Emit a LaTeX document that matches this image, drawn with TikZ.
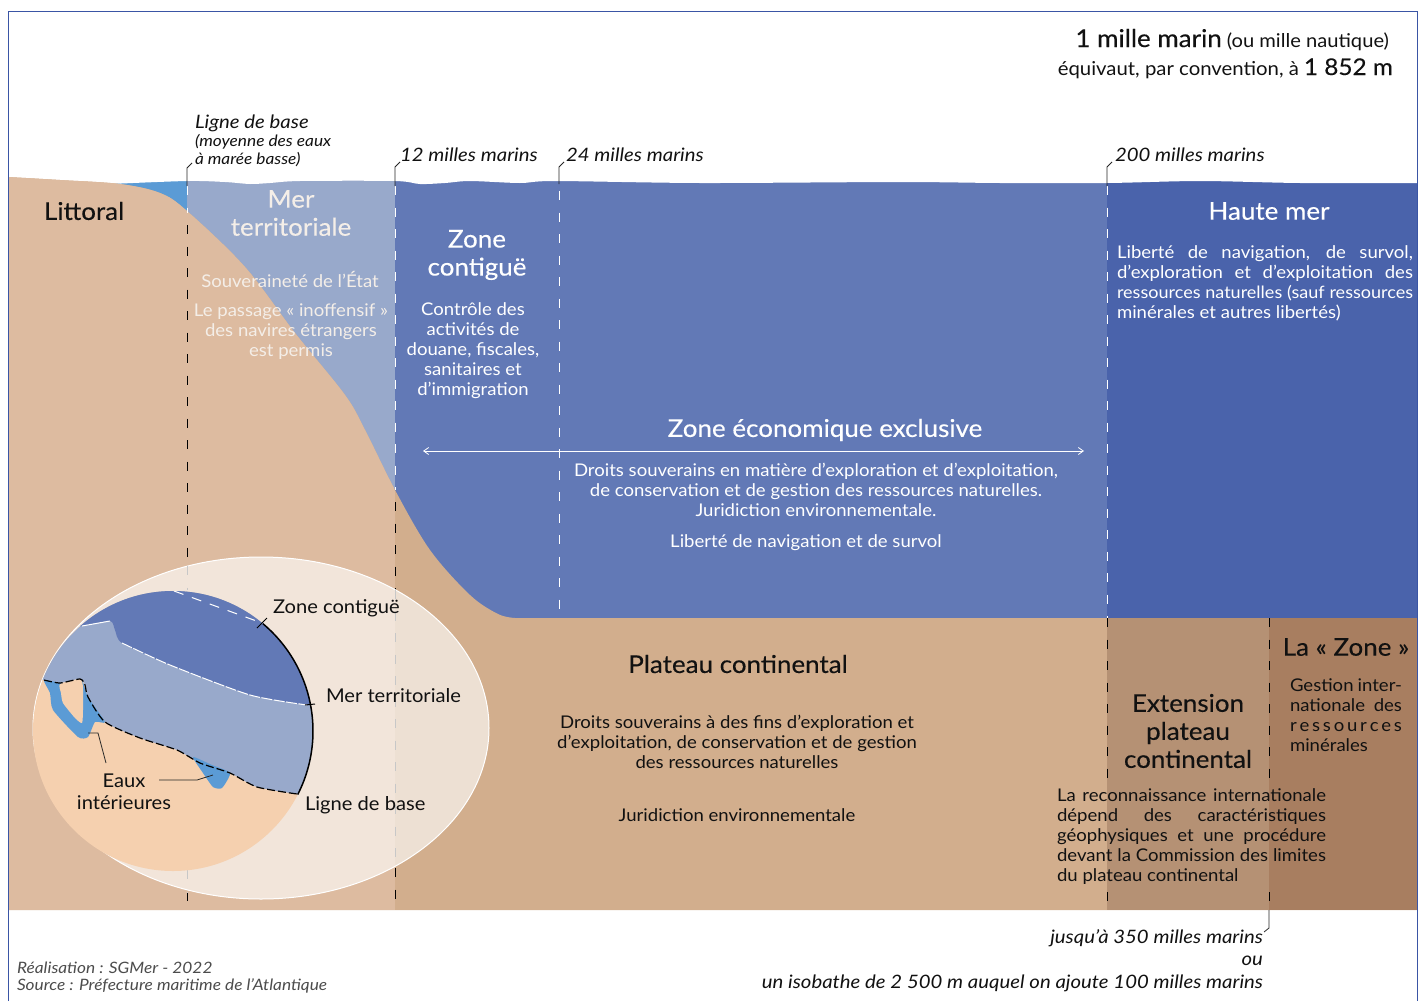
\documentclass[tikz,border=0pt]{standalone}
\usepackage{fontspec}
\setmainfont{Lato}[FakeStretch=1.06,ItalicFeatures={FakeStretch=1.1}]
\newfontfamily\heavier{Lato}[FakeStretch=1.06,FakeBold=.25]
\usetikzlibrary{arrows.meta}
\definecolor{landA}{HTML}{DDBBA0}
\definecolor{landB}{HTML}{D2AE8D}
\definecolor{landC}{HTML}{B59174}
\definecolor{landD}{HTML}{A87E60}
\definecolor{seaA}{HTML}{98A9CB}
\definecolor{seaB}{HTML}{6279B6}
\definecolor{seaC}{HTML}{4A63AB}
\definecolor{bay}{HTML}{5B9BD5}
\definecolor{peach}{HTML}{F5D0AF}
\definecolor{frameblue}{HTML}{3A55A5}
\definecolor{ink}{HTML}{111111}
\definecolor{pale}{HTML}{F4EEE8}
\newcommand{\jl}[2]{\makebox[#1][s]{#2}}
\tikzset{
  txt/.style={inner sep=0pt,outer sep=0pt,text=ink},
  body/.style={txt,align=center,font=\fontsize{17.5}{20}\selectfont},
  bodyleft/.style={txt,align=left,anchor=west,font=\fontsize{17.5}{20}\selectfont},
  title/.style={txt,align=center,font=\heavier\fontsize{24.5}{28}\selectfont},
  ital/.style={txt,anchor=west,font=\itshape\fontsize{18.5}{22}\selectfont},
  italsmall/.style={txt,anchor=west,font=\itshape\fontsize{15.7}{18}\selectfont},
  lab/.style={txt,anchor=west,font=\fontsize{19}{22}\selectfont},
  wdash/.style={white,line width=1pt,dash pattern=on 9pt off 12.5pt},
  kdash/.style={black,line width=1pt,dash pattern=on 9pt off 12.5pt},
  gdash/.style={black!22,line width=1pt,dash pattern=on 9pt off 12.5pt},
  leader/.style={black!85,line width=.8pt},
}
\begin{document}
\begin{tikzpicture}[x=1pt,y=-1pt]
\useasboundingbox (0,0) rectangle (1426,1001);
% sea
\fill[seaA] (187,170) rectangle (395,618);
\fill[seaB] (395,170) rectangle (1107,618);
\fill[seaC] (1107,170) rectangle (1417,618);
\fill[bay] (110,175) rectangle (187,230);
% white sky above the wavy surface
\fill[white] (100,160) -- plot[smooth,tension=.5] coordinates {(110,184)(187,181)(225,182)(250,184)(270,183)(300,181)(395,181)(420,184)(445,183)(470,181)(520,183)(555,181)(700,183)(900,182)(1000,183)(1107,183)(1200,181)(1300,183)(1417,183)} -- (1417,160) -- cycle;
% land
\def\landpath{(8,177) -- (8,910) -- (1417,910) -- (1417,618) -- (515,618) -- plot[smooth,tension=.55] coordinates {(515,618)(498,614)(470,595)(430,550)(395,490)(365,430)(345,395)(295,333)(245,267)(187,211)(160,193)(120,184)(60,180)(8,177)} -- cycle}
\fill[landB] \landpath;
\begin{scope}
\clip \landpath;
\fill[landA] (0,170) rectangle (395,910);
\fill[landC] (1107,618) rectangle (1269,910);
\fill[landD] (1269,618) rectangle (1417,910);
\end{scope}
% frame
\draw[frameblue,line width=.8pt] (8,1001) -- (8,11) -- (1417,11) -- (1417,1001);
% dashed limits
\draw[wdash] (187,186) -- (187,213);
\draw[kdash] (187,225) -- (187,566);
\draw[kdash] (187,892) -- (187,910);
\draw[wdash] (395,186) -- (395,490);
\draw[kdash] (395,502) -- (395,590);
\draw[kdash] (395,868) -- (395,908);
\draw[wdash] (559,191) -- (559,612);
\draw[wdash] (1107,186) -- (1107,618);
\draw[kdash] (1107,618) -- (1107,780);
\draw[kdash] (1107,892) -- (1107,910);
\draw[kdash] (1269,618) -- (1269,780);
\draw[kdash] (1269,892) -- (1269,910);
% inset
\fill[white,opacity=.62] (261,728) ellipse [x radius=228,y radius=171];
\draw[white,line width=1pt] (261,728) ellipse [x radius=228,y radius=171];
\draw[gdash] (187,566) -- (187,590);
\draw[gdash] (187,870) -- (187,892);
\draw[gdash] (395,590) -- (395,868);
\fill[peach] (173,731) circle [radius=140];
\begin{scope}
\clip (173,731) circle [radius=140];
\fill[seaA] (30,560) -- (30,680) -- (44,680) -- plot[smooth,tension=.4] coordinates {(44,680)(60,683)(80,679)(85,685)(88,697)(105,722)(140,738)(177,750)(200,763)(230,773)(257,787)(297,794)} -- (340,794) -- (340,560) -- cycle;
\fill[seaB] (60,560) -- (60,628) -- plot[smooth,tension=.4] coordinates {(60,628)(82,626)(110,621)(115,630)(122,643)(170,665)(250,695)(307,705)} -- (340,705) -- (340,560) -- cycle;
\fill[bay] plot[smooth cycle,tension=.35] coordinates {(44,680)(50,693)(53,710)(78,737)(88,737)(95,722)(105,722)(88,697)(83,682)(80,679)(62,683)};
\fill[peach] plot[smooth cycle,tension=.35] coordinates {(60,684)(80,679)(83,687)(83,710)(82,723)(75,718)(63,703)(61,693)};
\fill[bay] plot[smooth cycle,tension=.35] coordinates {(193,757)(203,773)(213,787)(222,788)(230,773)(212,765)};
\draw[white,line width=1pt,dash pattern=on 11pt off 1.5pt] plot[smooth,tension=.4] coordinates {(122,643)(170,665)(250,695)(307,705)};
\draw[white,line width=1pt] plot[smooth,tension=.4] coordinates {(82,626)(110,621)};
\draw[white,line width=1pt,dash pattern=on 10pt off 9pt] (174,591) -- (262,623);
\draw[black,line width=1.2pt,dash pattern=on 8pt off 3pt] plot[smooth,tension=.4] coordinates {(44,680)(60,683)(80,679)(85,685)(88,697)(105,722)(140,738)(177,750)(200,763)(230,773)(257,787)(297,794)};
\end{scope}
\draw[black,line width=1.5pt] plot[domain=-50:27,samples=50] ({173+140*cos(\x)},{731+140*sin(\x)});
% ticks
\coordinate (tickAa) at (257,628); \coordinate (tickAb) at (267,618);
\coordinate (tickBa) at (305,705); \coordinate (tickBb) at (315,704);
\draw[black,line width=1pt] (tickAa) -- (tickAb);
\draw[black,line width=1pt] (tickBa) -- (tickBb);
% leaders to the limits
\coordinate (lbA) at (187,186); \coordinate (lbB) at (187,168); \coordinate (lbC) at (192,163);
\coordinate (mA) at (395,186); \coordinate (mB) at (395,167); \coordinate (mC) at (400,162);
\coordinate (nA) at (559,184); \coordinate (nB) at (559,167); \coordinate (nC) at (564,162);
\coordinate (oA) at (1107,186); \coordinate (oB) at (1107,167); \coordinate (oC) at (1112,162);
\coordinate (pA) at (1269,910); \coordinate (pB) at (1269,928); \coordinate (pC) at (1264,932);
\draw[leader] (lbA) -- (lbB) -- (lbC);
\draw[leader] (mA) -- (mB) -- (mC);
\draw[leader] (nA) -- (nB) -- (nC);
\draw[leader] (oA) -- (oB) -- (oC);
\draw[leader] (pA) -- (pB) -- (pC);
% ZEE arrow
\coordinate (zeeL) at (423,451); \coordinate (zeeR) at (1084,451);
\draw[white,line width=.8pt,{Straight Barb[length=5pt,width=7pt]}-{Straight Barb[length=5pt,width=7pt]}] (zeeL) -- (zeeR);
% header
\node[txt,anchor=base east] (hdrA) at (1389,47) {{\heavier\fontsize{24.5}{28}\selectfont 1 mille marin}\hspace{5pt}{\fontsize{19}{22}\selectfont (ou mille nautique)}};
\node[txt,anchor=base east] (hdrB) at (1393,75) {{\fontsize{19.2}{22}\selectfont équivaut, par convention, à}\hspace{5pt}{\heavier\fontsize{23}{28}\selectfont 1 852 m}};
% limit labels
\node[ital] (lbl0) at (195,123) {Ligne de base};
\node[italsmall] (lbl0a) at (195,142) {(moyenne des eaux};
\node[italsmall] (lbl0b) at (195,160) {à marée basse)};
\node[ital] (lbl12) at (400,155) {12 milles marins};
\node[ital] (lbl24) at (566,155) {24 milles marins};
\node[ital] (lbl200) at (1115,155) {200 milles marins};
% zones
\node[title,anchor=west] (littoral) at (44,211) {Littoral};
\node[title,text=pale] (mer) at (291,213) {Mer\\territoriale};
\node[body,text=pale] (souv) at (290,279) {Souveraineté de l’État};
\node[body,text=pale] (passage) at (291,332) {Le passage « inoffensif »\\des navires étrangers\\est permis};
\node[title,text=white] (contig) at (477,255) {Zone\\contiguë};
\node[body,text=white] (controle) at (473,351) {Contrôle des\\activités de\\douane, fiscales,\\sanitaires et\\d’immigration};
\node[title,text=white] (zee) at (825,430) {Zone économique exclusive};
\node[body,text=white] (droits) at (816,490) {Droits souverains en matière d’exploration et d’exploitation,\\de conservation et de gestion des ressources naturelles.\\Juridiction environnementale.};
\node[body,text=white] (liberte) at (806,543) {Liberté de navigation et de survol};
\node[title,text=white] (haute) at (1269,211) {Haute mer};
\node[bodyleft,text=white] (hautetxt) at (1117,283) {\jl{296pt}{Liberté de navigation, de survol,}\\\jl{296pt}{d’exploration et d’exploitation des}\\\jl{296pt}{\fontsize{17}{20}\selectfont ressources naturelles (sauf ressources}\\minérales et autres libertés)};
\node[title] (plateau) at (738,664) {Plateau continental};
\node[body] (plateautxt) at (737,742) {Droits souverains à des fins d’exploration et\\d’exploitation, de conservation et de gestion\\des ressources naturelles};
\node[body] (jurid) at (737,815) {Juridiction environnementale};
\node[title] (ext) at (1188,731) {Extension\\plateau\\continental};
\node[bodyleft] (exttxt) at (1057,837) {\jl{269pt}{La reconnaissance internationale}\\\jl{269pt}{dépend des caractéristiques}\\\jl{269pt}{géophysiques et une procédure}\\\jl{269pt}{devant la Commission des limites}\\du plateau continental};
\node[title] (lazone) at (1346,647) {La « Zone »};
\node[bodyleft] (zonetxt) at (1290,715) {\jl{112pt}{Gestion inter-}\\\jl{112pt}{nationale des}\\\jl{112pt}{r\hfill e\hfill s\hfill s\hfill o\hfill u\hfill r\hfill c\hfill e\hfill s}\\minérales};
% inset labels
\node[lab] (inA) at (273,608) {Zone contiguë};
\node[lab] (inB) at (326,696) {Mer territoriale};
\node[lab] (inC) at (305,805) {Ligne de base};
\node[txt,align=center,font=\fontsize{19}{22}\selectfont] (eaux) at (124,792) {Eaux\\intérieures};
\coordinate (eA) at (106,763); \coordinate (eB) at (98,733); \coordinate (eC) at (88,733);
\coordinate (eD) at (159,780); \coordinate (eE) at (197,780); \coordinate (eF) at (213,775);
\draw[leader] (eA) -- (eB) -- (eC);
\draw[leader] (eD) -- (eE) -- (eF);
% bottom notes
\node[txt,anchor=east,font=\itshape\fontsize{18.5}{22}\selectfont] (jusq) at (1263,938) {jusqu’à 350 milles marins};
\node[txt,anchor=east,font=\itshape\fontsize{18.5}{22}\selectfont] (ou) at (1263,961) {ou};
\node[txt,anchor=east,font=\itshape\fontsize{18.5}{22}\selectfont] (iso) at (1263,983) {un isobathe de 2 500 m auquel on ajoute 100 milles marins};
\node[italsmall,text=black!70] (real) at (17,968) {Réalisation : SGMer - 2022};
\node[italsmall,text=black!70] (src) at (17,986) {Source : Préfecture maritime de l’Atlantique};
\end{tikzpicture}
\end{document}
